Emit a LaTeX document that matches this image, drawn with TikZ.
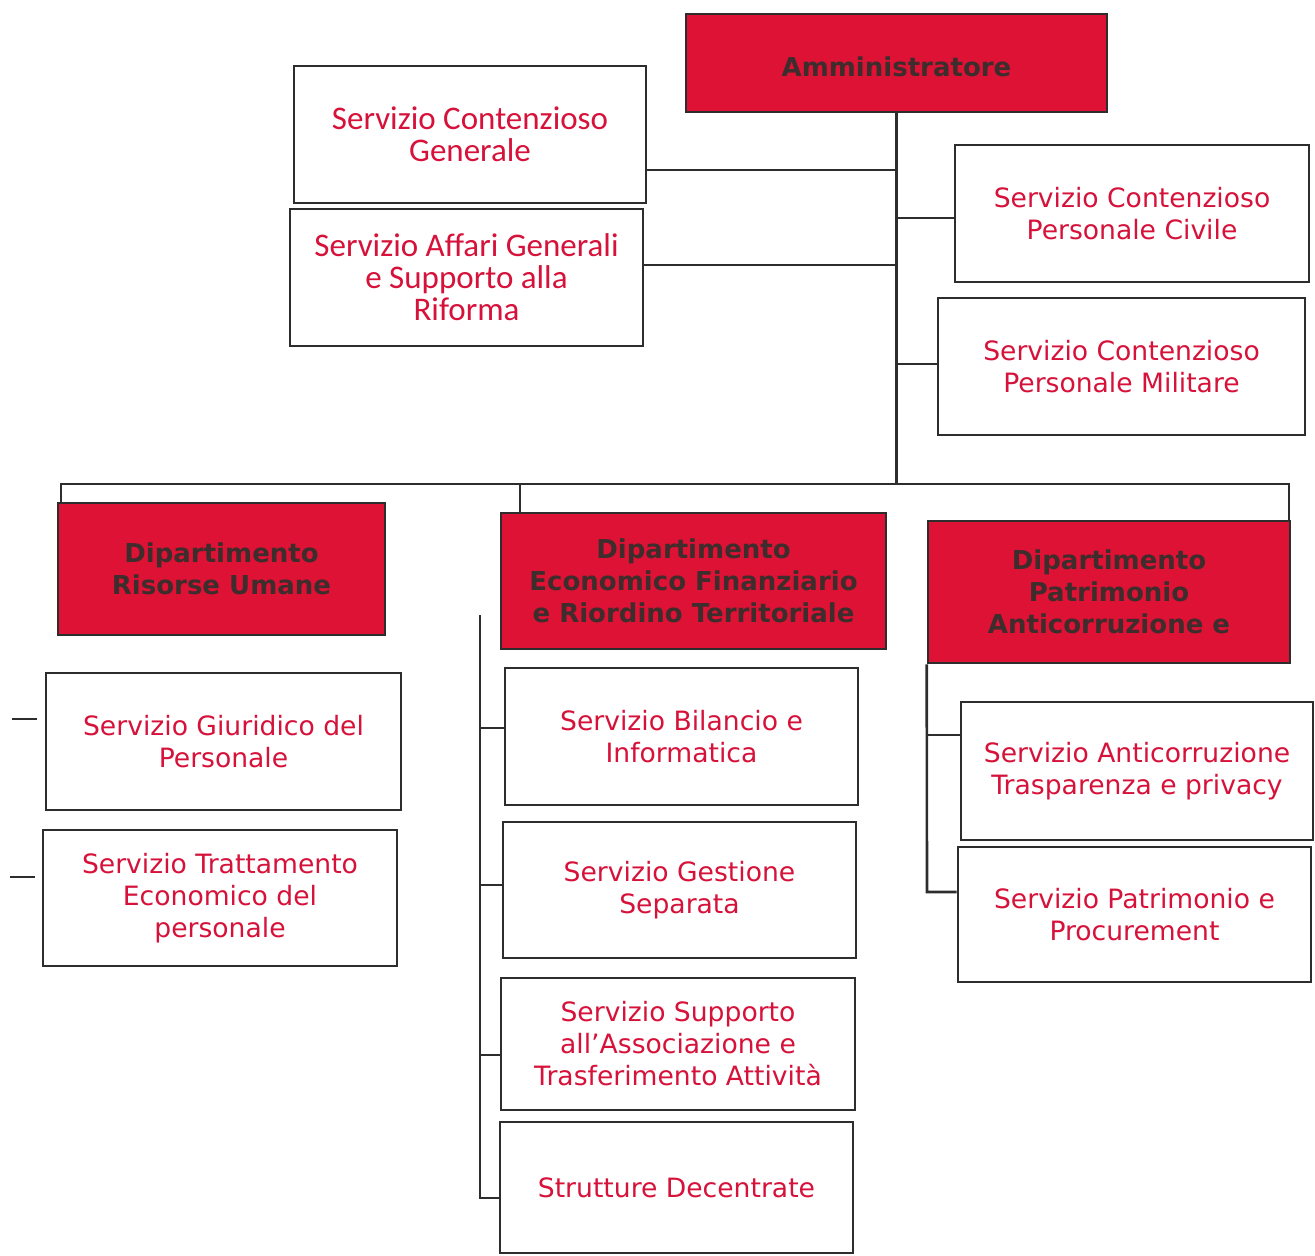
\documentclass[tikz,border=0pt]{standalone}
\usepackage{fontspec}
\setmainfont{DejaVu Sans}
\newfontfamily\carlito{Carlito}
\usetikzlibrary{calc}
\definecolor{boxred}{RGB}{222,18,52}
\definecolor{txtred}{RGB}{214,18,58}
\definecolor{deptxt}{RGB}{62,45,45}
\definecolor{linegray}{RGB}{45,45,45}
\begin{document}
\begin{tikzpicture}[x=0.5pt,y=-0.5pt,
  svc/.style={draw=linegray, line width=1.4pt, fill=white, text=txtred, align=center,
    font=\fontsize{13.3pt}{16pt}\selectfont, inner sep=0pt},
  cal/.style={svc, font=\carlito\fontsize{16.5pt}{16pt}\selectfont},
  dept/.style={draw=linegray, line width=1.3pt, fill=boxred, text=deptxt, align=center,
    font=\bfseries\fontsize{13pt}{16pt}\selectfont, inner sep=0pt},
  link/.style={draw=linegray, line width=1.3pt}]
\useasboundingbox (0,0) rectangle (1315,1256);

% top level
\node[dept, minimum width=210.5pt, minimum height=49pt, text height=13.5pt, text depth=0pt] (adm) at (896.5,63) {Amministratore};
\node[cal, minimum width=176pt, minimum height=68.5pt] (gen) at (470,134.5) {Servizio Contenzioso\\Generale};
\node[cal, minimum width=176.5pt, minimum height=68.5pt] (aff) at (466.5,277.5) {Servizio Affari Generali\\e Supporto alla\\Riforma};
\node[svc, minimum width=177pt, minimum height=68.5pt] (civ) at (1132,213.5) {Servizio Contenzioso\\Personale Civile};
\node[svc, minimum width=183.5pt, minimum height=68.5pt] (mil) at (1121.5,366.5) {Servizio Contenzioso\\Personale Militare};

% departments
\node[dept, minimum width=163.5pt, minimum height=66pt] (dru) at (221.5,569) {Dipartimento\\Risorse Umane};
\node[dept, minimum width=192.5pt, minimum height=68pt] (def) at (693.5,581) {Dipartimento\\Economico Finanziario\\e Riordino Territoriale};
\node[dept, minimum width=181pt, minimum height=71pt] (dpa) at (1109,592) {Dipartimento\\Patrimonio\\Anticorruzione e};

% left column
\node[svc, minimum width=177.5pt, minimum height=68.5pt] (giu) at (223.5,741.5) {Servizio Giuridico del\\Personale};
\node[svc, minimum width=177pt, minimum height=68pt] (tra) at (220,898) {Servizio Trattamento\\Economico del\\personale};

% middle column
\node[svc, minimum width=176.5pt, minimum height=68.5pt] (bil) at (681.5,736.5) {Servizio Bilancio e\\Informatica};
\node[svc, minimum width=176.5pt, minimum height=68pt] (ges) at (679.5,890) {Servizio Gestione\\Separata};
\node[svc, minimum width=177pt, minimum height=66pt] (sup) at (678,1044) {Servizio Supporto\\all’Associazione e\\Trasferimento Attività};
\node[svc, minimum width=176.5pt, minimum height=65.5pt] (str) at (676.5,1187.5) {Strutture Decentrate};

% right column
\node[svc, minimum width=176pt, minimum height=69pt] (ant) at (1137,771) {Servizio Anticorruzione\\Trasparenza e privacy};
\node[svc, minimum width=176.5pt, minimum height=67.5pt] (pro) at (1134.5,914.5) {Servizio Patrimonio e\\Procurement};

% coordinates
\coordinate (t1) at (896,170);
\coordinate (t2) at (896,265);
\coordinate (t3) at (896,218);
\coordinate (t4) at (896,364);
\coordinate (busL) at (61,484);
\coordinate (busR) at (1289,484);
\coordinate (busM) at (520,484);
\coordinate (mtop) at (480,615);
\coordinate (m1) at (480,728);
\coordinate (m2) at (480,885);
\coordinate (m3) at (480,1055);
\coordinate (mbot) at (480,1198);
\coordinate (r1) at (927,735);
\coordinate (rbot) at (927,892);
\coordinate (d1a) at (12,719);
\coordinate (d1b) at (37,719);
\coordinate (d2a) at (10,877);
\coordinate (d2b) at (35,877);

% connectors: top
\draw[link] (adm.south) -- (adm.south |- busL);
\draw[link] (gen.east |- t1) -- (t1);
\draw[link] (aff.east |- t2) -- (t2);
\draw[link] (t3) -- (civ.west |- t3);
\draw[link] (t4) -- (mil.west |- t4);

% bus
\draw[link] (dru.north -| busL) -- (busL) -- (busR) -- (dpa.north -| busR);
\draw[link] (busM) -- (def.north -| busM);

% middle column
\draw[link] (mtop) -- (mbot) -- (str.west |- mbot);
\draw[link] (m1) -- (bil.west |- m1);
\draw[link] (m2) -- (ges.west |- m2);
\draw[link] (m3) -- (sup.west |- m3);

% right column
\draw[link] (dpa.south west) -- (rbot) -- (pro.west |- rbot);
\draw[link] (r1) -- (ant.west |- r1);

% left stubs
\draw[link] (d1a) -- (d1b);
\draw[link] (d2a) -- (d2b);
\end{tikzpicture}
\end{document}
